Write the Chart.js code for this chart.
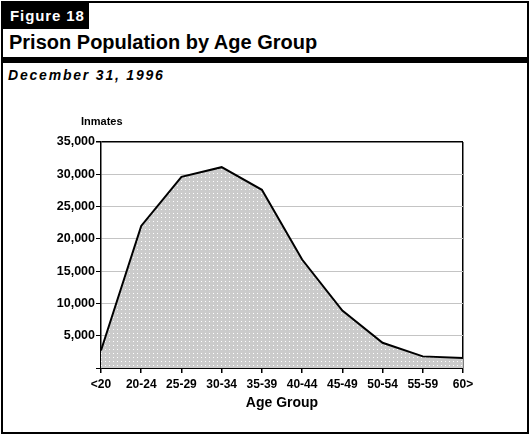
<!DOCTYPE html>
<html><head><meta charset="utf-8">
<script src="https://cdn.jsdelivr.net/npm/chart.js@4"></script>
<style>
html,body{margin:0;padding:0;background:#fff;width:529px;height:435px;overflow:hidden;font-family:"Liberation Sans",Arial,sans-serif;}
#frame{position:absolute;left:1px;top:1px;width:524px;height:429px;border:2px solid #000;}
#fig{position:absolute;left:2px;top:2px;width:87px;height:27px;background:#000;color:#fff;font-weight:bold;font-size:15px;letter-spacing:0.9px;line-height:27px;padding-left:8px;box-sizing:border-box;}
#title{position:absolute;left:9px;top:30px;font-weight:bold;font-size:20px;line-height:24px;color:#000;}
#rule{position:absolute;left:1px;top:57px;width:527px;height:6px;background:#000;}
#sub{position:absolute;left:8px;top:67px;font-weight:bold;font-style:italic;font-size:14px;letter-spacing:1.8px;line-height:16px;color:#000;}
#inm{position:absolute;left:81px;top:115px;font-weight:bold;font-size:11px;line-height:13px;color:#000;}
#c{position:absolute;left:0;top:0;}
</style></head>
<body>
<div id="frame"></div>
<div id="fig">Figure 18</div>
<div id="title">Prison Population by Age Group</div>
<div id="rule"></div>
<div id="sub">December 31, 1996</div>
<canvas id="c" width="529" height="435"></canvas>
<div id="inm">Inmates</div>
<script>
const categories = ["<20","20-24","25-29","30-34","35-39","40-44","45-49","50-54","55-59","60>"];
const inmates = [2700, 22000, 29600, 31100, 27600, 16800, 8900, 3900, 1800, 1550];
const yTicks = [0, 5000, 10000, 15000, 20000, 25000, 30000, 35000];

function makePattern(){
  const p = document.createElement('canvas');
  p.width = 4; p.height = 4;
  const g = p.getContext('2d');
  g.fillStyle = '#cbcbcb'; g.fillRect(0,0,4,4);
  g.fillStyle = '#ffffff'; g.fillRect(1,1,1,1);
  return document.getElementById('c').getContext('2d').createPattern(p,'repeat');
}

const fontBase = {family:'"Liberation Sans", Arial, sans-serif', weight:'bold'};
new Chart(document.getElementById('c'), {
  type:'line',
  data:{labels:categories, datasets:[{
    data:inmates, borderColor:'#000', borderWidth:2, backgroundColor:makePattern(),
    fill:'origin', pointRadius:0, tension:0
  }]},
  options:{
    responsive:false, animation:false,
    layout:{padding:{left:0, top:142, right:66, bottom:23}},
    plugins:{legend:{display:false}, tooltip:{enabled:false}},
    scales:{
      x:{
        offset:false,
        grid:{
          color:(ctx)=> ctx.index === categories.length-1 ? '#000' : 'rgba(0,0,0,0)',
          tickColor:'#000', tickLength:5, lineWidth:1.5
        },
        border:{color:'#000', width:1.5},
        ticks:{color:'#000', font:{...fontBase, size:12}, padding:4, maxRotation:0, autoSkip:false},
        title:{display:true, text:'Age Group', color:'#000', font:{...fontBase, size:14}, padding:{top:4,bottom:0}},
        afterFit:(s)=>{ s.height = 44; }
      },
      y:{
        min:0, max:35000,
        afterBuildTicks:(s)=>{ s.ticks = yTicks.map(v=>({value:v})); },
        grid:{
          color:(ctx)=> ctx.tick && (ctx.tick.value === 35000 || ctx.tick.value===0) ? '#000' : '#c4c4c4',
          lineWidth:(ctx)=> ctx.tick && ctx.tick.value === 35000 ? 1.5 : 1,
          tickColor:'#000', tickLength:5
        },
        border:{color:'#000', width:1.5},
        ticks:{color:'#000', font:{...fontBase, size:12.5}, padding:1,
          callback:(v)=> v===0 ? '' : v.toLocaleString('en-US')},
        afterFit:(s)=>{ s.width = 101; }
      }
    }
  }
});
</script>
</body></html>
